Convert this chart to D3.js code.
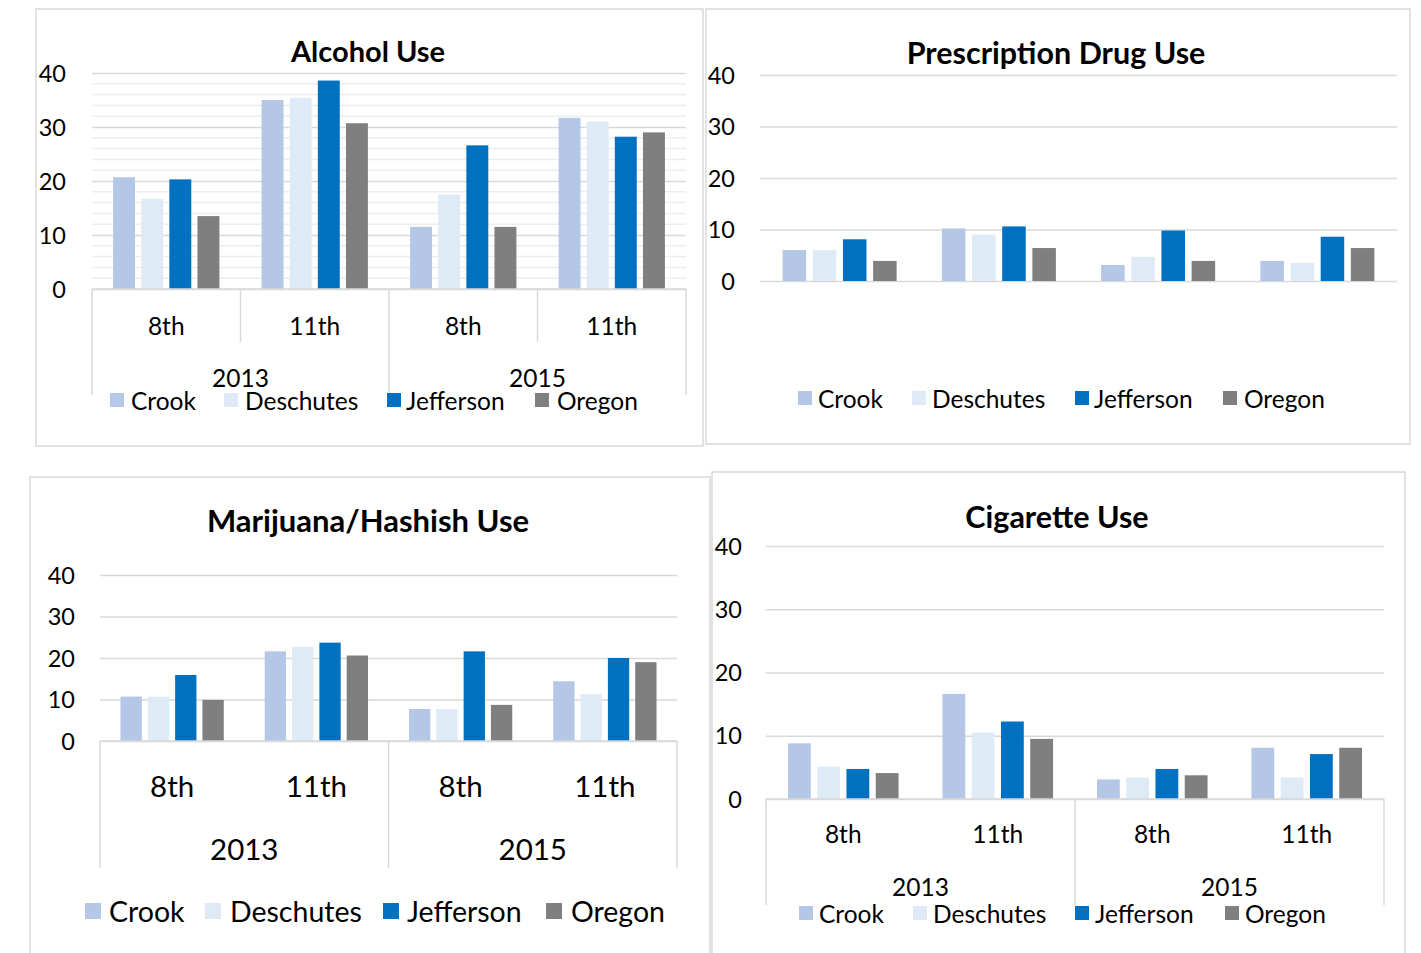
<!DOCTYPE html>
<html>
<head>
<meta charset="utf-8">
<script src="https://cdn.jsdelivr.net/npm/d3@7"></script>
<style>
  html, body { margin: 0; padding: 0; background: #fff; }
  svg { display: block; }
  text { font-family: Lato, "Open Sans", sans-serif; fill: #000; }
</style>
</head>
<body>
<svg id="chart" width="1421" height="953"></svg>
<script>
// ---------- data ----------
const years = ["2013", "2015"];
const grades = ["8th", "11th"];
const counties = ["Crook", "Deschutes", "Jefferson", "Oregon"];
const countyColors = ["#B4C7E7", "#DEEBF7", "#0070C0", "#7F7F7F"];
const yTicks = [0, 10, 20, 30, 40];

// rows: 2013 8th, 2013 11th, 2015 8th, 2015 11th ; cols: counties
const alcoholValues = [
  [20.7, 16.7, 20.3, 13.5],
  [35.0, 35.4, 38.6, 30.7],
  [11.5, 17.5, 26.6, 11.5],
  [31.7, 31.0, 28.2, 29.0]
];
const prescriptionValues = [
  [6.0, 6.0, 8.1, 3.9],
  [10.2, 9.0, 10.6, 6.4],
  [3.1, 4.7, 9.8, 3.9],
  [3.9, 3.5, 8.6, 6.4]
];
const marijuanaValues = [
  [10.7, 10.7, 15.9, 9.9],
  [21.6, 22.7, 23.7, 20.6],
  [7.7, 7.7, 21.6, 8.7],
  [14.4, 11.3, 20.0, 19.0]
];
const cigaretteValues = [
  [8.8, 5.1, 4.75, 4.1],
  [16.6, 10.5, 12.25, 9.5],
  [3.1, 3.4, 4.75, 3.75],
  [8.1, 3.4, 7.1, 8.1]
];

// ---------- layout ----------
const panels = [
  {
    title: "Alcohol Use", values: alcoholValues,
    border: [36, 9, 667, 437], titlePos: [368, 50], titleSize: 29,
    plot: [92, 686, 73, 289], yLabelX: 66, yFont: 23.5, minor: 2,
    axis: { gradeY: 325, yearY: 377, innerBottom: 342, outerBottom: 395, inner: true, font: 24.5 },
    legend: { y: 400, sq: 14, font: 24.5, sqX: [110, 224, 387, 535], txtX: [131, 245, 406, 557] }
  },
  {
    title: "Prescription Drug Use", values: prescriptionValues,
    border: [706, 9, 704, 435], titlePos: [1056, 52], titleSize: 30.5,
    plot: [760, 1397, 75, 281], yLabelX: 735, yFont: 23.5, minor: 0,
    axis: null,
    legend: { y: 398, sq: 14, font: 24.5, sqX: [798, 912, 1075, 1223], txtX: [818, 932, 1094, 1244] }
  },
  {
    title: "Marijuana/Hashish Use", values: marijuanaValues,
    border: [30, 477, 680, 490], titlePos: [368, 520], titleSize: 31,
    plot: [100, 677, 575, 741], yLabelX: 75, yFont: 23.5, minor: 0,
    axis: { gradeY: 785, yearY: 848, innerBottom: 0, outerBottom: 868, inner: false, font: 29.5 },
    legend: { y: 911, sq: 16, font: 28.5, sqX: [85, 205, 383, 546], txtX: [109, 230, 407, 571] }
  },
  {
    title: "Cigarette Use", values: cigaretteValues,
    border: [712, 472, 693, 490], titlePos: [1057, 516], titleSize: 30.5,
    plot: [766, 1384, 546, 799], yLabelX: 742, yFont: 23.5, minor: 0,
    axis: { gradeY: 833, yearY: 886, innerBottom: 0, outerBottom: 905, inner: false, font: 24.5 },
    legend: { y: 913, sq: 14, font: 24.5, sqX: [799, 913, 1075, 1225], txtX: [819, 933, 1095, 1245] }
  }
];

const svg = d3.select("#chart");
const groupKeys = [];
years.forEach(y => grades.forEach(g => groupKeys.push(y + "|" + g)));

panels.forEach(p => {
  const g = svg.append("g");
  const [bx, by, bw, bh] = p.border;
  g.append("rect").attr("x", bx).attr("y", by).attr("width", bw).attr("height", bh)
    .attr("fill", "#fff").attr("stroke", "#D9D9D9").attr("stroke-width", 1.5);

  g.append("text").attr("x", p.titlePos[0]).attr("y", p.titlePos[1])
    .attr("text-anchor", "middle").attr("dominant-baseline", "central")
    .attr("font-size", p.titleSize).attr("font-weight", "bold").text(p.title);

  const [x0, x1, yTop, yBot] = p.plot;
  const y = d3.scaleLinear().domain([0, 40]).range([yBot, yTop]);
  const xg = d3.scaleBand().domain(groupKeys).range([x0, x1]).padding(0);
  const xs = d3.scaleBand().domain(counties).range([0, xg.bandwidth()]).paddingInner(0.22).paddingOuter(0.75);

  // minor gridlines
  if (p.minor) {
    const minorTicks = d3.range(0, 40 + 0.001, p.minor).filter(v => v % 10 !== 0);
    g.append("g").selectAll("line").data(minorTicks).join("line")
      .attr("x1", x0).attr("x2", x1).attr("y1", d => y(d)).attr("y2", d => y(d))
      .attr("stroke", "#EDEDED").attr("stroke-width", 1.5);
  }
  // major gridlines + y labels via axis
  const yAxis = d3.axisLeft(y).tickValues(yTicks).tickSize(-(x1 - x0)).tickPadding(0);
  const ya = g.append("g").attr("transform", `translate(${x0},0)`).call(yAxis);
  ya.select(".domain").remove();
  ya.selectAll(".tick line").attr("stroke", "#D9D9D9").attr("stroke-width", 1.5);
  ya.selectAll(".tick text").attr("x", p.yLabelX - x0).attr("dy", "0.35em")
    .attr("font-size", p.yFont).attr("font-family", "Lato, sans-serif").attr("fill", "#000");

  // bars
  const rows = p.values.map((vals, i) => ({ key: groupKeys[i], vals }));
  const grp = g.append("g").selectAll("g").data(rows).join("g")
    .attr("transform", d => `translate(${xg(d.key)},0)`);
  grp.selectAll("rect").data(d => d.vals.map((v, j) => ({ county: counties[j], v, j })))
    .join("rect")
    .attr("x", d => xs(d.county)).attr("width", xs.bandwidth())
    .attr("y", d => y(d.v)).attr("height", d => y(0) - y(d.v))
    .attr("fill", d => countyColors[d.j]);

  // category axis (multi-level)
  if (p.axis) {
    const a = p.axis;
    const ax = g.append("g");
    ax.append("line").attr("x1", x0).attr("x2", x1).attr("y1", yBot).attr("y2", yBot)
      .attr("stroke", "#D9D9D9").attr("stroke-width", 1.5);
    const yearW = (x1 - x0) / years.length;
    const outer = d3.range(years.length + 1).map(i => x0 + i * yearW);
    ax.selectAll(".outer").data(outer).join("line")
      .attr("x1", d => d).attr("x2", d => d).attr("y1", yBot).attr("y2", a.outerBottom)
      .attr("stroke", "#D9D9D9").attr("stroke-width", 1.5);
    if (a.inner) {
      const inner = years.map((yr, i) => xg(yr + "|" + grades[1]));
      ax.selectAll(".inner").data(inner).join("line")
        .attr("x1", d => d).attr("x2", d => d).attr("y1", yBot).attr("y2", a.innerBottom)
        .attr("stroke", "#D9D9D9").attr("stroke-width", 1.5);
    }
    ax.selectAll(".grade").data(groupKeys).join("text")
      .attr("x", d => xg(d) + xg.bandwidth() / 2).attr("y", a.gradeY)
      .attr("text-anchor", "middle").attr("dominant-baseline", "central")
      .attr("font-size", a.font).text(d => d.split("|")[1]);
    ax.selectAll(".year").data(years).join("text")
      .attr("x", (d, i) => x0 + (i + 0.5) * yearW).attr("y", a.yearY)
      .attr("text-anchor", "middle").attr("dominant-baseline", "central")
      .attr("font-size", a.font).text(d => d);
  }

  // legend
  const L = p.legend;
  const lg = g.append("g");
  counties.forEach((c, i) => {
    lg.append("rect").attr("x", L.sqX[i]).attr("y", L.y - L.sq / 2)
      .attr("width", L.sq).attr("height", L.sq).attr("fill", countyColors[i]);
    lg.append("text").attr("x", L.txtX[i]).attr("y", L.y)
      .attr("dominant-baseline", "central").attr("font-size", L.font).text(c);
  });
});
</script>
</body>
</html>
